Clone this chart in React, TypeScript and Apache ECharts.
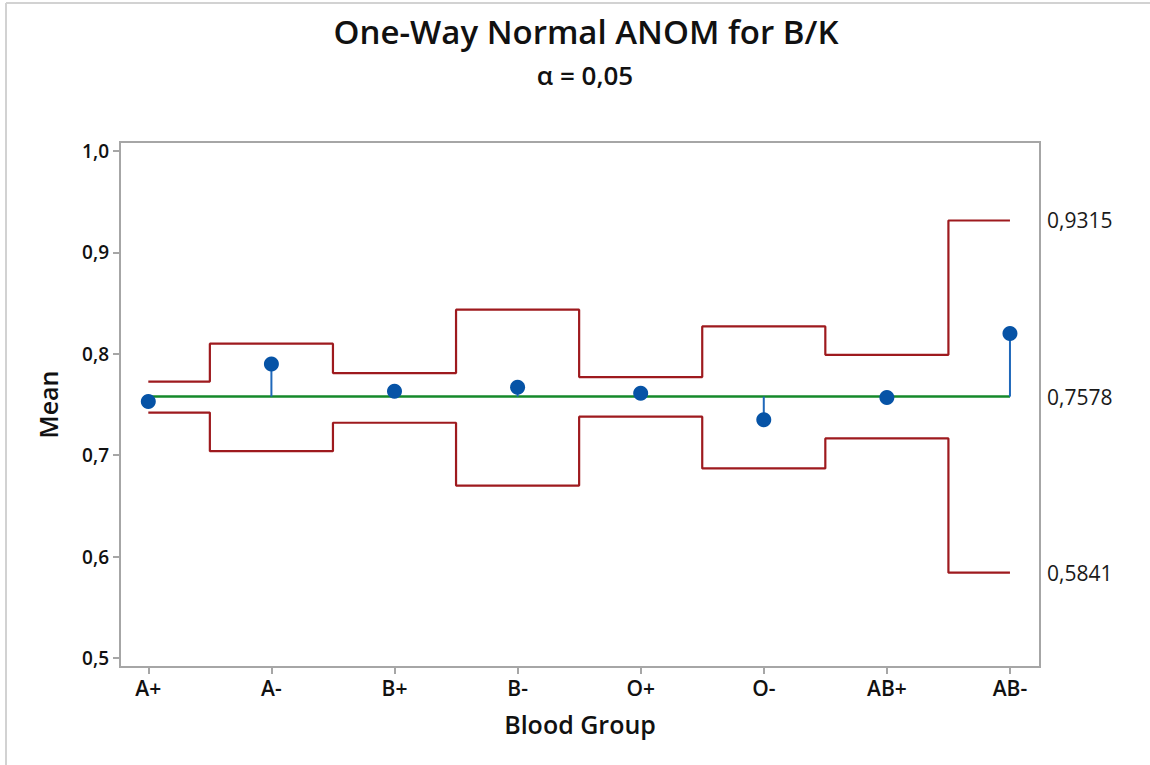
import React, { useEffect, useRef } from "react";
import * as echarts from "echarts";

const categories = ["A+", "A-", "B+", "B-", "O+", "O-", "AB+", "AB-"];
const means = [0.753, 0.790, 0.763, 0.767, 0.761, 0.735, 0.757, 0.820];
const upperLimits = [0.7726, 0.810, 0.781, 0.8435, 0.777, 0.827, 0.799, 0.9315];
const lowerLimits = [0.742, 0.704, 0.732, 0.670, 0.738, 0.687, 0.7165, 0.5841];
const centerLine = 0.7578;
const yTicks = [0.5, 0.6, 0.7, 0.8, 0.9, 1.0];
const rightLabels = [0.5841, 0.7578, 0.9315];
const titleText = "One-Way Normal ANOM for B/K";
const subtitleText = "α = 0,05";

const FONT = "'Open Sans', 'Noto Sans', sans-serif";
const RED = "#9E1A1E";
const GREEN = "#14892A";
const BLUE = "#0653A6";
const STEM = "#1F68BA";
const FRAME = "#A6A6A6";

export default function App() {
  const ref = useRef<HTMLDivElement>(null);

  useEffect(() => {
    if (!ref.current) return;
    const chart = echarts.init(ref.current, undefined, { renderer: "svg" });
    const idx = categories.map((_, i) => i);
    const option: any = {
      animation: false,
      backgroundColor: "#ffffff",
      title: [
        {
          text: titleText,
          left: 581,
          top: 10,
          textAlign: "center",
          textStyle: { fontFamily: FONT, fontSize: 33, fontWeight: 600, color: "#111" },
        },
        {
          text: subtitleText,
          left: 580,
          top: 57,
          textAlign: "center",
          textStyle: { fontFamily: FONT, fontSize: 26, fontWeight: 600, color: "#111" },
        },
      ],
      graphic: [
        { type: "line", shape: { x1: 6, y1: 3, x2: 1150, y2: 3 }, style: { stroke: "#D2D2D2", lineWidth: 2 } },
        { type: "line", shape: { x1: 6, y1: 3, x2: 6, y2: 765 }, style: { stroke: "#D2D2D2", lineWidth: 2 } },
      ],
      grid: {
        left: 120,
        top: 142,
        width: 920,
        height: 525,
        show: true,
        borderColor: FRAME,
        borderWidth: 2,
        backgroundColor: "transparent",
      },
      xAxis: {
        type: "value",
        min: -0.23,
        max: 7.244,
        axisLine: { show: false, onZero: false },
        splitLine: { show: false },
        axisTick: {
          show: true,
          customValues: idx,
          length: 7,
          lineStyle: { color: FRAME, width: 2 },
        },
        axisLabel: {
          customValues: idx,
          formatter: (v: number) => categories[Math.round(v)],
          fontFamily: FONT,
          fontSize: 21,
          fontWeight: 600,
          color: "#111",
          margin: 10,
        },
        name: "Blood Group",
        nameLocation: "middle",
        nameGap: 44,
        nameTextStyle: { fontFamily: FONT, fontSize: 25, fontWeight: 600, color: "#111" },
      },
      yAxis: [
        {
          type: "value",
          min: 0.4911,
          max: 1.0089,
          axisLine: { show: false, onZero: false },
          splitLine: { show: false },
          axisTick: {
            show: true,
            customValues: yTicks,
            length: 7,
            lineStyle: { color: FRAME, width: 2 },
          },
          axisLabel: {
            customValues: yTicks,
            formatter: (v: number) => v.toFixed(1).replace(".", ","),
            fontFamily: FONT,
            fontSize: 19,
            fontWeight: 600,
            color: "#111",
            margin: 11,
          },
          name: "Mean",
          nameLocation: "middle",
          nameGap: 60,
          nameRotate: 90,
          nameTextStyle: { fontFamily: FONT, fontSize: 25, fontWeight: 600, color: "#111" },
        },
        {
          type: "value",
          position: "right",
          min: 0.4911,
          max: 1.0089,
          axisLine: { show: false, onZero: false },
          splitLine: { show: false },
          axisTick: { show: false },
          axisLabel: {
            customValues: rightLabels,
            formatter: (v: number) => v.toFixed(4).replace(".", ","),
            fontFamily: FONT,
            fontSize: 21,
            color: "#1a1a1a",
            margin: 7,
          },
        },
      ],
      series: [
        {
          type: "line",
          step: "middle",
          symbol: "none",
          data: idx.map((i) => [i, upperLimits[i]]),
          lineStyle: { color: RED, width: 2.2 },
          z: 2,
        },
        {
          type: "line",
          step: "middle",
          symbol: "none",
          data: idx.map((i) => [i, lowerLimits[i]]),
          lineStyle: { color: RED, width: 2.2 },
          z: 2,
        },
        {
          type: "line",
          symbol: "none",
          data: [
            [0, centerLine],
            [categories.length - 1, centerLine],
          ],
          lineStyle: { color: GREEN, width: 2.5 },
          z: 3,
        },
        {
          type: "custom",
          data: idx.map((i) => [i, means[i]]),
          renderItem: (params: any, api: any) => {
            const x = api.value(0);
            const y = api.value(1);
            const p1 = api.coord([x, centerLine]);
            const p2 = api.coord([x, y]);
            return {
              type: "line",
              shape: { x1: p1[0], y1: p1[1], x2: p2[0], y2: p2[1] },
              style: { stroke: STEM, lineWidth: 2 },
            };
          },
          z: 4,
        },
        {
          type: "scatter",
          data: idx.map((i) => [i, means[i]]),
          symbol: "circle",
          symbolSize: 15,
          itemStyle: { color: BLUE, opacity: 1 },
          z: 5,
        },
      ],
    };
    chart.setOption(option);
    return () => chart.dispose();
  }, []);

  return (
    <div
      ref={ref}
      style={{ position: "fixed", left: 0, top: 0, width: 1150, height: 765, background: "#fff" }}
    />
  );
}
